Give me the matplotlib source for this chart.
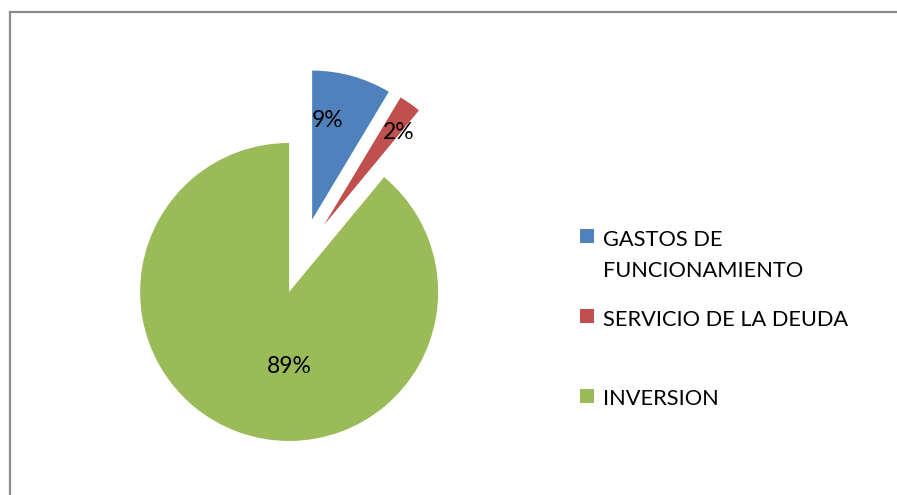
import numpy as np
import matplotlib
matplotlib.use("Agg")
import matplotlib.pyplot as plt
from matplotlib.patches import Rectangle
from matplotlib.lines import Line2D

# ---- data ----
categories = ["GASTOS DE\nFUNCIONAMIENTO", "SERVICIO DE LA DEUDA", "INVERSION"]
values = [8.6, 2.4, 89.0]
colors = ["#4F81BD", "#C0504D", "#9BBB59"]

plt.rcParams['font.family'] = ['Lato', 'DejaVu Sans']

W, H, DPI = 897, 495, 100
fig = plt.figure(figsize=(W / DPI, H / DPI), dpi=DPI)
fig.patch.set_facecolor("white")

R_PX = 149.0                 # pie radius in pixels
CX, CY = 302.0, 495 - 256.2  # pie center in pixels (from bottom-left)

ax = fig.add_axes([0, 0, 1, 1])
wedges, texts, autotexts = ax.pie(
    values, colors=colors, startangle=90, counterclock=False,
    explode=[0.255] * len(values), radius=1.0,
    autopct='%.0f%%', pctdistance=0.6,
    wedgeprops=dict(linewidth=0),
    textprops=dict(fontsize=16.5, color='black'))
ax.set_xlim(-CX / R_PX, (W - CX) / R_PX)
ax.set_ylim(-CY / R_PX, (H - CY) / R_PX)
ax.set_aspect('equal')
ax.axis('off')

# label placement (style): distance from wedge apex and angle shift from mid-angle
label_dist = [0.686, 0.812, 0.487]
label_shift = [6.85, -2.8, 19.7]
for w, t, d, s in zip(wedges, autotexts, label_dist, label_shift):
    mid = np.deg2rad((w.theta1 + w.theta2) / 2 + s)
    cx, cy = w.center
    t.set_position((cx + d * np.cos(mid), cy + d * np.sin(mid) - 0.015))
    t.set_ha('center'); t.set_va('center')

# legend drawn manually (Excel-like layout)
leg_sq_x = 580
leg_text_x = 603
leg_y = [236, 316, 396]        # square centres (px from top)
leg_base = [246, 326, 405]     # baseline of first text line (px from top)
line_pitch = 31
for lab, col, y, b in zip(categories, colors, leg_y, leg_base):
    fig.patches.append(Rectangle((leg_sq_x / W, (H - y - 7) / H), 14 / W, 14 / H,
                                 transform=fig.transFigure, facecolor=col,
                                 edgecolor='none'))
    for i, line in enumerate(lab.split("\n")):
        fig.text(leg_text_x / W, (H - b - i * line_pitch) / H, line, fontsize=15.7,
                 va='baseline', ha='left', color='black')

# outer frame (top and left edges visible)
fc = '#8C8C8C'
fig.lines.append(Line2D([9.5 / W, 9.5 / W], [0, (H - 11.5) / H], transform=fig.transFigure,
                        color=fc, linewidth=1.6, solid_capstyle='projecting'))
fig.lines.append(Line2D([9.5 / W, 1.0], [(H - 11.5) / H, (H - 11.5) / H],
                        transform=fig.transFigure, color=fc, linewidth=1.6,
                        solid_capstyle='projecting'))

fig.savefig("out.png", dpi=DPI, facecolor='white')
